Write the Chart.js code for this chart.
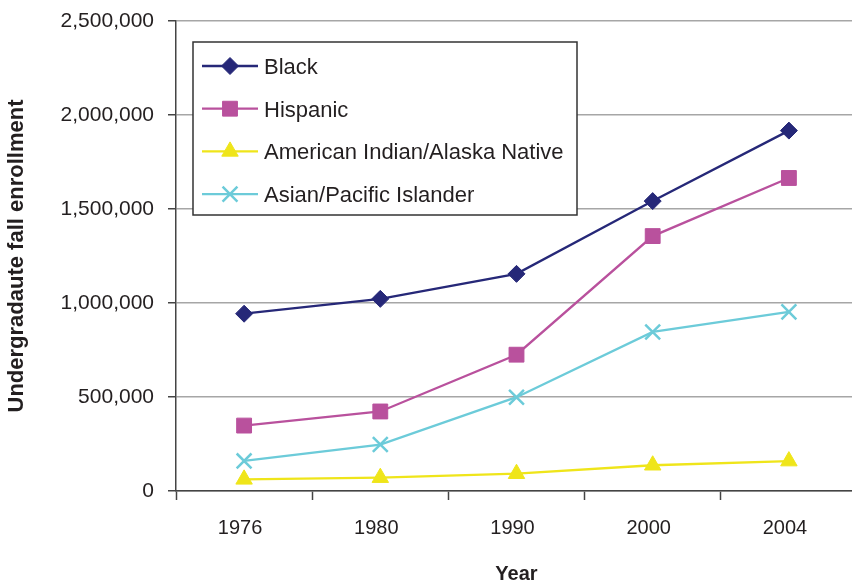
<!DOCTYPE html>
<html><head><meta charset="utf-8">
<script src="https://cdn.jsdelivr.net/npm/chart.js@4.4.0/dist/chart.umd.min.js"></script>
<style>html,body{margin:0;padding:0;overflow:hidden;background:#fff}#wrap{width:860px;height:585px}</style>
</head><body><div id="wrap"><canvas id="c" width="860" height="585"></canvas></div>
<script>
const categories = ['1976', '1980', '1990', '2000', '2004'];
const seriesNames = ['Black', 'Hispanic', 'American Indian/Alaska Native', 'Asian/Pacific Islander'];
const black    = [943000, 1022000, 1155000, 1542000, 1917000];
const hispanic = [348000, 423000, 725000, 1356000, 1665000];
const amIndian = [62000, 71000, 92000, 137000, 159000];
const asian    = [160000, 247000, 499000, 846000, 953000];
const yTickValues = [0, 500000, 1000000, 1500000, 2000000, 2500000];
const yTitle = 'Undergradaute fall enrollment';
const xTitle = 'Year';

const FONT = '"Liberation Sans", Arial, Helvetica, sans-serif';
const TEXT = '#231f20';

const styles = [
  {color: '#262878', pointStyle: 'rectRot', radius: 8.5, bw: 1},
  {color: '#b9519d', pointStyle: 'rect', radius: 10.5, bw: 1},
  {color: '#efe51a', pointStyle: 'triangle', radius: 9.5, bw: 1},
  {color: '#6ccbd9', pointStyle: 'crossRot', radius: 10.5, bw: 2.5}
];
const seriesData = [black, hispanic, amIndian, asian];

const datasets = seriesNames.map((name, i) => ({
  label: name,
  data: seriesData[i],
  borderColor: styles[i].color,
  backgroundColor: styles[i].color,
  borderWidth: 2.3,
  pointStyle: styles[i].pointStyle,
  pointRadius: styles[i].radius,
  pointHoverRadius: styles[i].radius,
  pointBorderWidth: styles[i].bw,
  pointBackgroundColor: styles[i].color,
  pointBorderColor: styles[i].color,
  tension: 0,
  fill: false
}));

const boxLegend = {
  id: 'boxLegend',
  beforeDatasetsDraw(chart) {
    const ctx = chart.ctx;
    const ca = chart.chartArea;
    const bx = ca.left + 17, by = ca.top + 21, bw = 384, bh = 173;
    ctx.save();
    ctx.fillStyle = '#fff';
    ctx.fillRect(bx, by, bw, bh);
    ctx.strokeStyle = '#333';
    ctx.lineWidth = 1.5;
    ctx.strokeRect(bx, by, bw, bh);
    chart.data.datasets.forEach((ds, i) => {
      const yy = by + 24 + i * 42.7;
      ctx.strokeStyle = ds.borderColor;
      ctx.lineWidth = ds.borderWidth;
      ctx.beginPath();
      ctx.moveTo(bx + 9, yy);
      ctx.lineTo(bx + 65, yy);
      ctx.stroke();
      ctx.fillStyle = ds.pointBackgroundColor;
      ctx.strokeStyle = ds.pointBorderColor;
      ctx.lineWidth = ds.pointBorderWidth;
      Chart.helpers.drawPoint(ctx, {pointStyle: ds.pointStyle, radius: ds.pointRadius, borderWidth: ds.pointBorderWidth, rotation: 0}, bx + 37, yy);
      ctx.fillStyle = TEXT;
      ctx.font = '22px ' + FONT;
      ctx.textBaseline = 'middle';
      ctx.textAlign = 'left';
      ctx.fillText(ds.label, bx + 71, yy + 2);
    });
    ctx.restore();
  }
};

new Chart(document.getElementById('c'), {
  type: 'line',
  data: {labels: categories, datasets},
  plugins: [boxLegend],
  options: {
    responsive: false,
    animation: false,
    events: [],
    layout: {autoPadding: false, padding: {top: 21, right: 3, left: 0, bottom: 0}},
    plugins: {legend: {display: false}, tooltip: {enabled: false}},
    scales: {
      x: {
        type: 'category',
        offset: true,
        afterFit(s) { s.height = 94; s.paddingLeft = 0; s.paddingRight = 0; },
        grid: {display: true, drawOnChartArea: false, offset: true, tickLength: 9, tickColor: '#444', tickWidth: 1.5},
        border: {color: '#444', width: 1.5},
        ticks: {color: TEXT, font: {family: FONT, size: 20}, padding: 16, labelOffset: -4, maxRotation: 0},
        title: {display: true, text: xTitle, color: TEXT, font: {family: FONT, size: 20, weight: 'bold', lineHeight: 1.05}, padding: {top: 0, bottom: 0}}
      },
      y: {
        min: 0, max: 2500000,
        afterFit(s) { s.width = 176; s.paddingTop = 0; s.paddingBottom = 0; },
        afterBuildTicks(s) { s.ticks = yTickValues.map(v => ({value: v})); },
        grid: {color: '#a6a6a6', lineWidth: 1.5, tickLength: 8, tickColor: '#444', tickWidth: 1.5},
        border: {color: '#444', width: 1.5},
        ticks: {color: TEXT, font: {family: FONT, size: 21}, padding: 14, callback: v => v.toLocaleString('en-US')},
        title: {display: true, text: yTitle, color: TEXT, font: {family: FONT, size: 22, weight: 'bold', lineHeight: 1.2}, padding: {top: 4, bottom: 0}}
      }
    }
  }
});
</script>
</body></html>
